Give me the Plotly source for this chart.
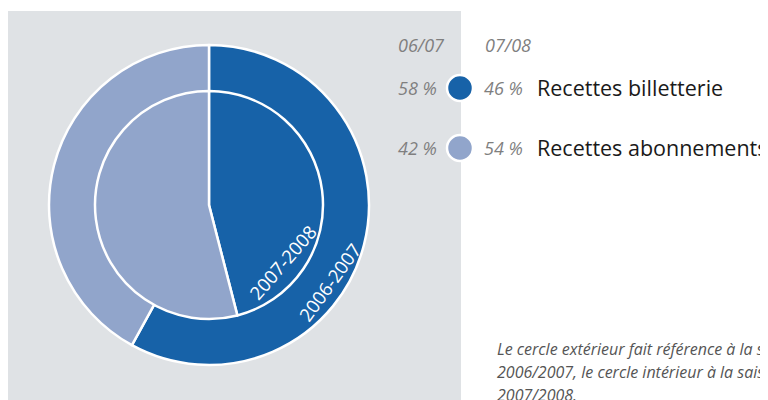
import plotly.graph_objects as go

categories = ["Recettes billetterie", "Recettes abonnements"]
values_0607 = [58, 42]   # outer ring, season 2006/2007
values_0708 = [46, 54]   # inner pie, season 2007/2008
season_labels = ["06/07", "07/08"]
ring_labels = ["2006-2007", "2007-2008"]
colors = ["#1762A8", "#91A5CB"]
note_lines = [
    "Le cercle extérieur fait référence à la saison",
    "2006/2007, le cercle intérieur à la saison",
    "2007/2008.",
]

OFF = 8  # page body margin offset
W, H = 768 - OFF, 400 - OFF
FONT = "Open Sans"
GREY_TXT = "#7f7f7f"

def px(x):
    return (x - OFF) / W

def py(y):
    return (H - (y - OFF)) / H

cx, cy = 209, 205
R_out, R_in = 160, 114

fig = go.Figure()
fig.add_trace(go.Pie(
    labels=categories, values=values_0607, sort=False, direction="clockwise",
    rotation=0, marker=dict(colors=colors, line=dict(color="white", width=2.5)),
    textinfo="none", hoverinfo="label+percent", showlegend=False,
    domain=dict(x=[px(cx - R_out), px(cx + R_out)], y=[py(cy + R_out), py(cy - R_out)]),
))
fig.add_trace(go.Pie(
    labels=categories, values=values_0708, sort=False, direction="clockwise",
    rotation=0, marker=dict(colors=colors, line=dict(color="white", width=2.5)),
    textinfo="none", hoverinfo="label+percent", showlegend=False,
    domain=dict(x=[px(cx - R_in), px(cx + R_in)], y=[py(cy + R_in), py(cy - R_in)]),
))

shapes = [dict(type="rect", xref="paper", yref="paper", x0=px(7), x1=px(461),
               y0=0, y1=py(11), fillcolor="#DFE2E5", line=dict(width=0), layer="below")]
annotations = []

GSIZE = 18
# column headers
annotations.append(dict(x=px(421), y=py(45), text=f"<i>{season_labels[0]}</i>", showarrow=False,
                        xref="paper", yref="paper", xanchor="center", yanchor="middle",
                        font=dict(family=FONT, size=GSIZE, color=GREY_TXT)))
annotations.append(dict(x=px(483), y=py(45), text=f"<i>{season_labels[1]}</i>", showarrow=False,
                        xref="paper", yref="paper", xanchor="left", yanchor="middle",
                        font=dict(family=FONT, size=GSIZE, color=GREY_TXT)))

row_y = [88, 148]
for i, cat in enumerate(categories):
    yy = row_y[i]
    shapes.append(dict(type="circle", xref="paper", yref="paper",
                       x0=px(447), x1=px(473), y0=py(yy + 13), y1=py(yy - 13),
                       fillcolor=colors[i], line=dict(color="white", width=2.5), layer="above"))
    annotations.append(dict(x=px(439), y=py(yy), text=f"<i>{values_0607[i]} %</i>", showarrow=False,
                            xref="paper", yref="paper", xanchor="right", yanchor="middle",
                            font=dict(family=FONT, size=GSIZE, color=GREY_TXT)))
    annotations.append(dict(x=px(482), y=py(yy), text=f"<i>{values_0708[i]} %</i>", showarrow=False,
                            xref="paper", yref="paper", xanchor="left", yanchor="middle",
                            font=dict(family=FONT, size=GSIZE, color=GREY_TXT)))
    annotations.append(dict(x=px(535), y=py(yy - 1), text=cat, showarrow=False,
                            xref="paper", yref="paper", xanchor="left", yanchor="middle",
                            font=dict(family=FONT, size=21.5, color="#1a1a1a")))

# ring labels
annotations.append(dict(x=px(329), y=py(282), text=ring_labels[0], showarrow=False,
                        xref="paper", yref="paper", xanchor="center", yanchor="middle",
                        textangle=-54, font=dict(family=FONT, size=18.5, color="white")))
annotations.append(dict(x=px(282), y=py(262), text=ring_labels[1], showarrow=False,
                        xref="paper", yref="paper", xanchor="center", yanchor="middle",
                        textangle=-49, font=dict(family=FONT, size=18.5, color="white")))

# note
for i, line in enumerate(note_lines):
    annotations.append(dict(x=px(495), y=py(349 + 23 * i), text=f"<i>{line}</i>", showarrow=False,
                            xref="paper", yref="paper", xanchor="left", yanchor="middle",
                            font=dict(family=FONT, size=16, color="#555555")))

fig.update_layout(
    width=W, height=H, margin=dict(l=0, r=0, t=0, b=0),
    paper_bgcolor="white", plot_bgcolor="white",
    shapes=shapes, annotations=annotations, showlegend=False,
)
fig.write_html("out.html")
